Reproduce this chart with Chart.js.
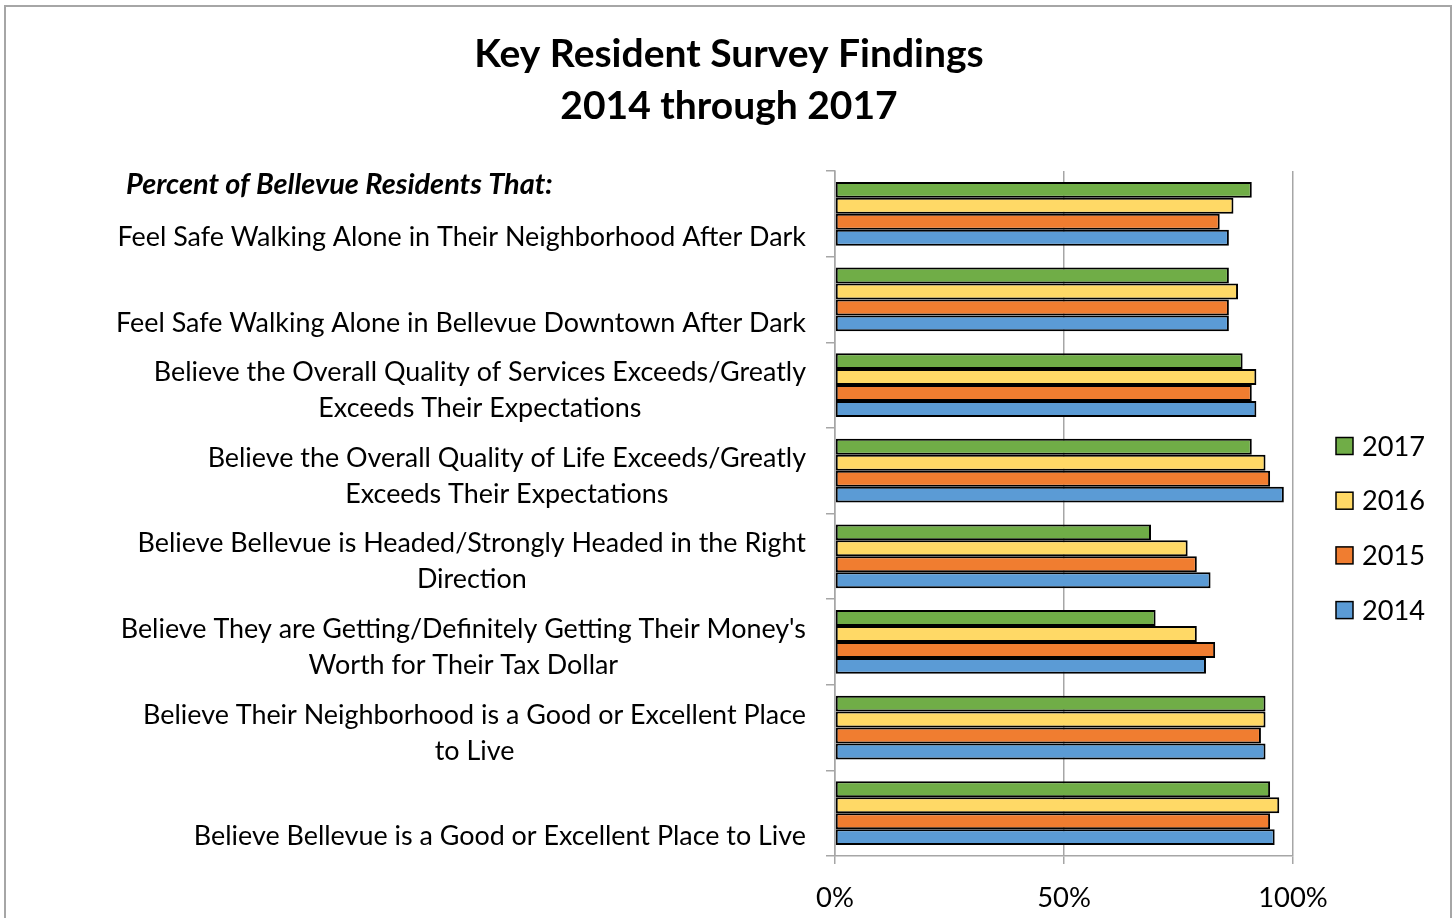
<!DOCTYPE html>
<html>
<head>
<meta charset="utf-8">
<script src="https://cdn.jsdelivr.net/npm/chart.js@4/dist/chart.umd.min.js"></script>
<style>
  html, body { margin: 0; padding: 0; background: #fff; }
  #wrap { position: relative; width: 1455px; height: 918px; }
</style>
</head>
<body>
<div id="wrap"><canvas id="c" width="1455" height="918"></canvas></div>
<script>
const categories = [
  ['', 'Feel Safe Walking Alone in Their Neighborhood After Dark'],
  ['', 'Feel Safe Walking Alone in Bellevue Downtown After Dark'],
  ['Believe the Overall Quality of Services Exceeds/Greatly', 'Exceeds Their Expectations'],
  ['Believe the Overall Quality of Life Exceeds/Greatly', 'Exceeds Their Expectations'],
  ['Believe Bellevue is Headed/Strongly Headed in the Right', 'Direction'],
  ["Believe They are Getting/Definitely Getting Their Money's", 'Worth for Their Tax Dollar'],
  ['Believe Their Neighborhood is a Good or Excellent Place', 'to Live'],
  ['', 'Believe Bellevue is a Good or Excellent Place to Live']
];
const years = ['2017', '2016', '2015', '2014'];
const values2017 = [91, 86, 89, 91, 69, 70, 94, 95];
const values2016 = [87, 88, 92, 94, 77, 79, 94, 97];
const values2015 = [84, 86, 91, 95, 79, 83, 93, 95];
const values2014 = [86, 86, 92, 98, 82, 81, 94, 96];
const xTickValues = [0, 50, 100];
const titleLines = ['Key Resident Survey Findings', '2014 through 2017'];
const headerText = 'Percent of Bellevue Residents That:';

const seriesColors = ['#70ad47', '#ffd966', '#f07d30', '#5b9bd5'];
const seriesValues = [values2017, values2016, values2015, values2014];

const FONT = 'Lato';
const LABEL_FONT = '26.9px ' + FONT;
const LINE_H = 36;

const decorPlugin = {
  id: 'decor',
  afterDraw(chart) {
    const ctx = chart.ctx;
    const ys = chart.scales.y;
    const area = chart.chartArea;
    ctx.save();
    // outer frame
    ctx.strokeStyle = '#a6a6a6';
    ctx.lineWidth = 2;
    ctx.strokeRect(5, 6, 1446, 1000);
    // title
    ctx.fillStyle = '#000';
    ctx.textAlign = 'center';
    ctx.textBaseline = 'middle';
    ctx.font = 'bold 39px ' + FONT;
    titleLines.forEach((t, i) => ctx.fillText(t, 729, 54 + i * 52));
    // header
    ctx.textAlign = 'left';
    ctx.font = 'italic bold 28.9px ' + FONT;
    ctx.fillText(headerText, 126, area.top + 14);
    // category labels
    ctx.font = LABEL_FONT;
    ctx.textAlign = 'center';
    const right = ys.right - 29;
    categories.forEach((lines, i) => {
      const cy = ys.getPixelForTick(i) + 5.5;
      const w = Math.max(...lines.map(l => ctx.measureText(l).width));
      const cx = right - w / 2;
      lines.forEach((l, j) => {
        ctx.fillText(l, cx, cy + (j - (lines.length - 1) / 2) * LINE_H);
      });
    });
    // legend
    ctx.font = '27.2px ' + FONT;
    ctx.textAlign = 'left';
    chart.data.datasets.forEach((ds, i) => {
      const y = 446 + i * 54.7;
      ctx.fillStyle = ds.backgroundColor;
      ctx.fillRect(1336, y - 8.5, 17, 17);
      ctx.strokeStyle = '#000';
      ctx.lineWidth = 1.5;
      ctx.strokeRect(1336, y - 8.5, 17, 17);
      ctx.fillStyle = '#000';
      ctx.fillText(ds.label, 1362, y + 1);
    });
    ctx.restore();
  }
};

new Chart(document.getElementById('c'), {
  type: 'bar',
  data: {
    labels: categories,
    datasets: years.map((y, i) => ({
      label: y,
      data: seriesValues[i],
      backgroundColor: seriesColors[i],
      borderColor: '#000',
      borderWidth: 2,
      borderSkipped: false,
      categoryPercentage: 0.745,
      barPercentage: 1.0
    }))
  },
  options: {
    indexAxis: 'y',
    responsive: false,
    animation: false,
    layout: { padding: { top: 171, right: 162, bottom: 0, left: 0 } },
    plugins: { legend: { display: false }, title: { display: false }, tooltip: { enabled: false } },
    scales: {
      x: {
        min: 0, max: 100,
        afterBuildTicks: s => { s.ticks = xTickValues.map(v => ({ value: v })); },
        ticks: { callback: v => v + '%', color: '#000', font: { family: FONT, size: 27.4 }, padding: 18, maxRotation: 0 },
        grid: { color: '#a6a6a6', lineWidth: 1.5, tickLength: 8 },
        border: { color: '#a6a6a6', width: 1.5 },
        afterFit: s => { s.height = 62; }
      },
      y: {
        ticks: { display: false },
        grid: { drawOnChartArea: false, offset: true, tickLength: 9, color: '#a6a6a6', lineWidth: 1.5 },
        border: { color: '#a6a6a6', width: 1.5 },
        afterFit: s => { s.width = 835; }
      }
    }
  },
  plugins: [decorPlugin]
});
</script>
</body>
</html>
